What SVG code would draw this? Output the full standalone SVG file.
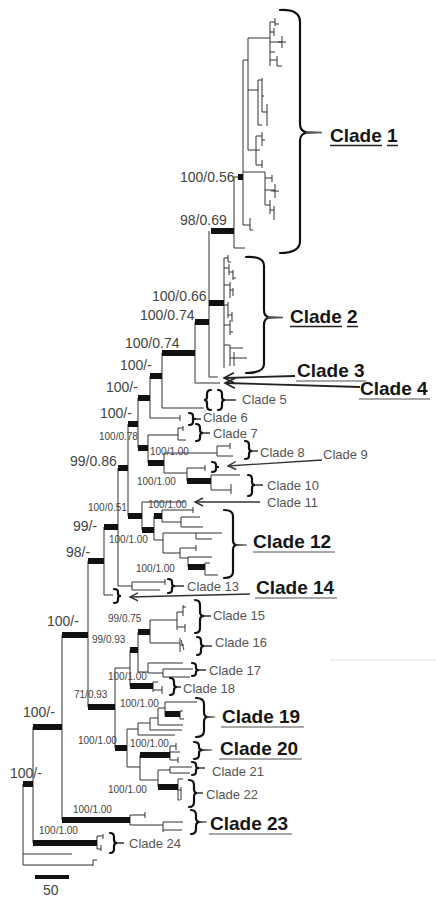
<svg xmlns="http://www.w3.org/2000/svg" width="436" height="899" viewBox="0 0 436 899">
<defs>
<style>
.t{stroke:#333;stroke-width:1;fill:none}
.b{fill:#111}
.br{stroke:#111;stroke-width:2.2;fill:none;stroke-linecap:round}
.dash{stroke:#333;stroke-width:1.5}
.sup{font-family:"Liberation Sans",Arial,sans-serif;font-size:14px;fill:#444}
.s{font-size:10px}
.cl{font-family:"Liberation Sans",Arial,sans-serif;font-size:13px;fill:#555}
.CL{font-family:"Liberation Sans",Arial,sans-serif;font-size:19px;font-weight:bold;fill:#151515}
.ul{stroke:#8a8a8a;stroke-width:1.6}
.ulk{stroke:#222;stroke-width:1.4}
.ar{stroke:#222;stroke-width:1.8;fill:none;marker-end:url(#a)}
.ar2{stroke:#333;stroke-width:1.3;fill:none;marker-end:url(#a2)}
</style>
<marker id="a" markerWidth="14" markerHeight="14" refX="11" refY="6" orient="auto" markerUnits="userSpaceOnUse" overflow="visible"><path d="M1,1 L11,6 L1,11" fill="none" stroke="#222" stroke-width="1.6"/></marker>
<marker id="a2" markerWidth="12" markerHeight="12" refX="9" refY="5" orient="auto" markerUnits="userSpaceOnUse" overflow="visible"><path d="M1,1 L9,5 L1,9" fill="none" stroke="#333" stroke-width="1.4"/></marker>
</defs>
<rect width="436" height="899" fill="#fff"/>

<g id="tree">
<path class="t" d="M243,60 V225 M243,60 H248 M248,38 V150 M248,38 H270 M270,22 V66 M270,22 H275 M275,18 V26 M275,24 H279 M270,32 H274 M274,28 V36 M270,42 H282 M282,36 V48 M278,42 H286 M270,52 H275 M270,60 H277 M277,56 V66 M277,66 H282
M248,90 H258 M258,80 V125 M258,80 H262 M262,78 V112 M262,96 H264 M262,112 H267 M267,104 V126 M258,125 H262
M248,150 H256 M256,136 V165 M256,136 H262 M262,132 V146 M262,140 H265 M256,150 H260 M256,165 H262 M262,160 V168
M243,172 H265 M265,172 V205 M265,178 H272 M272,175 V182 M265,190 H275 M275,184 V198 M271,191 H279 M265,205 H270 M270,200 V214 M270,210 H274 M274,206 V220
M243,225 H250 M250,218 V230 M250,230 H253
M234,177 V248 M234,177 H238 M234,248 H245"/>
<path class="t" d="M209,231 V377 M224,258 V368
M224,258 H228 M228,255 V262 M228,262 H231
M224,268 H229 M229,264 V275 M229,272 H233 M233,270 V280 M233,278 H236
M224,285 H230 M230,282 V298 M230,290 H233 M233,288 V296
M224,305 H228 M228,302 V318 M228,315 H232 M232,312 V322
M224,325 H230 M230,320 V335 M230,332 H233
M224,345 H230 M230,345 V366 M230,348 H243 M230,358 H247 M234,352 V366
M209,377 H218 M195,322 V383 M195,383 H220 M162,353 V408 M162,408 H204 M150,376 V418 M150,418 H180 M180,415 V421
M138,398 V448 M148,435 V463 M148,435 H178 M178,428 V440 M178,428 H183 M183,426 V431 M178,440 H186
M164,453 V473 M164,453 H217 M217,446 V456 M217,446 H230 M230,443 V449 M217,456 H233 M164,473 H187 M187,468 V481 M187,468 H205 M205,465 V471
M211,475 V490 M211,475 H240 M211,490 H231 M231,484 V494
M128,424 V516 M142,502 V530 M142,502 H185 M154,516 V540 M162,510 V522 M162,510 H193 M193,507 V513 M162,522 H181 M181,517 V527 M181,517 H200 M181,527 H203
M154,540 H163 M163,533 V553 M163,533 H222 M196,533 V539 M196,539 H212 M163,553 H180 M180,548 V558 M180,548 H196 M196,545 V551 M180,558 H188 M188,557 V567 M188,557 H212 M205,563 V575 M205,563 H210 M205,575 H218
M118,468 V586 M118,586 H132 M132,582 V590 M132,582 H165 M132,590 H160 M165,579 V585
M104,527 V595 M104,595 H113 M88,561 V707"/>
<path class="t" d="M115,668 V748 M115,668 H130 M130,650 V686 M138,632 V672 M150,620 V643
M150,620 H177 M177,612 V630 M177,612 H183 M183,605 V616 M183,607 H186 M177,627 H185 M185,624 V632
M150,643 H180 M180,638 V652 M180,645 H184 M181,640 L184,650
M138,672 H148 M148,663 V673 M148,663 H183 M148,673 H163 M163,669 V677 M163,669 H193 M163,677 H190
M153,682 V692 M153,682 H158 M153,690 H162 M162,686 V694
M127,729 V767 M127,729 H138 M138,723 V735 M138,735 H175 M138,723 H150 M150,718 V730 M150,730 H182 M150,718 H158 M158,708 V725 M158,725 H183 M158,708 H165 M165,702 V716 M165,702 H197 M180,711 V719 M180,711 H183 M180,719 H184
M127,767 H140 M140,755 V780 M170,746 V760 M170,746 H176 M176,743 V750 M170,752 H180 M170,760 H178 M178,757 V763
M140,780 H158 M158,770 V787 M158,770 H170 M170,767 V773 M170,767 H192 M170,773 H190
M178,779 V800 M178,779 H183 M178,790 H181 M181,787 V800 M178,800 H180
M62,635 V820 M130,815 V825 M130,815 H145 M145,812 V818 M130,825 H163 M163,822 V832 M163,822 H183 M163,830 H182
M33,727 V843 M97,836 V849 M97,836 H103 M103,834 V839 M97,849 H101 M101,845 V851
M23,784 V865 M23,854 H72 M23,865 H93 M93,860 V866 M93,860 H97"/>
<rect class="b" x="238" y="174" width="5" height="6"/>
<rect class="b" x="211" y="228" width="23" height="6"/>
<rect class="b" x="209" y="300" width="15" height="6"/>
<rect class="b" x="195" y="319" width="14" height="6"/>
<rect class="b" x="162" y="350" width="33" height="6"/>
<rect class="b" x="150" y="373" width="12" height="6"/>
<rect class="b" x="138" y="395" width="12" height="6"/>
<rect class="b" x="128" y="421" width="10" height="6"/>
<rect class="b" x="138" y="445" width="10" height="6"/>
<rect class="b" x="148" y="460" width="16" height="6"/>
<rect class="b" x="187" y="478" width="24" height="6"/>
<rect class="b" x="118" y="465" width="10" height="6"/>
<rect class="b" x="128" y="513" width="14" height="6"/>
<rect class="b" x="142" y="527" width="12" height="6"/>
<rect class="b" x="154" y="513" width="8" height="6"/>
<rect class="b" x="188" y="564" width="17" height="6"/>
<rect class="b" x="104" y="524" width="14" height="6"/>
<rect class="b" x="88" y="558" width="16" height="6"/>
<rect class="b" x="62" y="632" width="26" height="6"/>
<rect class="b" x="88" y="704" width="27" height="6"/>
<rect class="b" x="130" y="647" width="8" height="6"/>
<rect class="b" x="138" y="629" width="12" height="6"/>
<rect class="b" x="130" y="683" width="23" height="6"/>
<rect class="b" x="165" y="711" width="15" height="6"/>
<rect class="b" x="115" y="745" width="12" height="6"/>
<rect class="b" x="140" y="752" width="30" height="6"/>
<rect class="b" x="158" y="784" width="20" height="6"/>
<rect class="b" x="62" y="817" width="68" height="6"/>
<rect class="b" x="33" y="724" width="29" height="6"/>
<rect class="b" x="33" y="840" width="64" height="6"/>
<rect class="b" x="23" y="781" width="10" height="6"/>
</g>

<g id="support">
<text class="sup" x="180" y="182">100/0.56</text>
<text class="sup" x="180" y="225">98/0.69</text>
<text class="sup" x="152" y="301">100/0.66</text>
<text class="sup" x="140" y="320">100/0.74</text>
<text class="sup" x="125" y="348">100/0.74</text>
<text class="sup" x="120" y="370">100/-</text>
<text class="sup" x="106" y="392">100/-</text>
<text class="sup" x="100" y="418">100/-</text>
<text class="sup s" x="99" y="440">100/0.78</text>
<text class="sup s" x="150" y="455">100/1.00</text>
<text class="sup" x="70" y="466">99/0.86</text>
<text class="sup s" x="137" y="485">100/1.00</text>
<text class="sup s" x="88" y="511">100/0.51</text>
<text class="sup s" x="148" y="508">100/1.00</text>
<text class="sup" x="73" y="531">99/-</text>
<text class="sup s" x="109" y="543">100/1.00</text>
<text class="sup" x="66" y="557">98/-</text>
<text class="sup s" x="136" y="572">100/1.00</text>
<text class="sup s" x="108" y="622">99/0.75</text>
<text class="sup" x="47" y="626">100/-</text>
<text class="sup s" x="92" y="643">99/0.93</text>
<text class="sup s" x="108" y="680">100/1.00</text>
<text class="sup s" x="74" y="698">71/0.93</text>
<text class="sup s" x="120" y="707">100/1.00</text>
<text class="sup" x="23" y="717">100/-</text>
<text class="sup s" x="78" y="744">100/1.00</text>
<text class="sup s" x="130" y="747">100/1.00</text>
<text class="sup" x="10" y="778">100/-</text>
<text class="sup s" x="108" y="793">100/1.00</text>
<text class="sup s" x="73" y="813">100/1.00</text>
<text class="sup s" x="39" y="834">100/1.00</text>
</g>

<g id="clade1">
<path class="br" d="M280,10 Q300,9 300,22 L300,124 Q300,132 308,132.5 Q300,133 300,141 L300,241 Q300,253 280,253"/>
<polygon points="306,131 322,131.8 322,133.2 306,134" fill="#555"/>
<text class="CL" x="330" y="142">Clade 1</text>
<path class="ulk" d="M330,145.5 H382 M387,145.5 H398"/>
</g>
<g id="clade2">
<path class="br" d="M246,257 Q264,256 264,266 L264,310 Q264,317 270,317.5 Q264,318 264,325 L264,364 Q264,373 246,373"/>
<polygon points="268,316 283,316.8 283,318.2 268,319" fill="#555"/>
<text class="CL" x="290" y="323">Clade 2</text>
<path class="ulk" d="M290,326.5 H342 M347,326.5 H358"/>
</g>
<g id="clade3"><text class="CL" x="297" y="377">Clade 3</text><path class="ul" d="M296,381 H366"/></g>
<g id="clade4"><text class="CL" x="360" y="395">Clade 4</text><path class="ul" d="M359,399 H430"/></g>
<g id="clade5">
<path class="br" d="M211,390 Q207,390 207,394 L207,397 Q207,400 204,400 Q207,400 207,403 L207,406 Q207,410 211,410"/>
<path class="br" d="M218,390 Q222,390 222,394 L222,397 Q222,400 225,400 Q222,400 222,403 L222,406 Q222,410 218,410"/>
<path class="dash" d="M225,400 H236"/>
<text class="cl" x="242" y="404">Clade  5</text>
</g>
<g id="clade6">
<path class="br" d="M189,413 Q193,413 193,416 L193,419 L196,419 L193,419 L193,422 Q193,425 189,425"/>
<path class="dash" d="M196,419 H201"/>
<text class="cl" x="203" y="422">Clade  6</text>
</g>
<g id="clade7">
<path class="br" d="M196,424 Q200,424 200,428 L200,430 Q200,433 203,433 Q200,433 200,436 L200,438 Q200,441 196,441"/>
<path class="dash" d="M203,433 H210"/>
<text class="cl" x="213" y="438">Clade  7</text>
</g>
<g id="clade8">
<path class="br" d="M245,441 Q249,441 249,445 L249,448 Q249,451 252,451 Q249,451 249,454 L249,456 Q249,459 245,459"/>
<path class="dash" d="M252,451 H258"/>
<text class="cl" x="260" y="457">Clade  8</text>
</g>
<g id="clade9">
<path class="br" d="M212,462 Q216,462 216,465 L216,467 L219,467 L216,467 L216,469 Q216,472 212,472"/>
<text class="cl" x="323" y="459">Clade  9</text>
</g>
<g id="clade10">
<path class="br" d="M248,475 Q252,475 252,479 L252,482 Q252,485 255,485 Q252,485 252,488 L252,492 Q252,496 248,496"/>
<path class="dash" d="M255,485 H263"/>
<text class="cl" x="267" y="490">Clade  10</text>
</g>
<g id="clade11"><text class="cl" x="267" y="507">Clade  11</text></g>
<g id="clade12">
<path class="br" d="M224,510 Q233,510 233,516 L233,540 Q233,545 237,545 Q233,545 233,550 L233,572 Q233,578 224,578"/>
<polygon points="236,544 247,544.5 247,545.5 236,546" fill="#444"/>
<text class="CL" x="253" y="548">Clade 12</text><path class="ul" d="M253,552 H335"/>
</g>
<g id="clade13">
<path class="br" d="M168,579 Q172,579 172,582 L172,584 Q172,586 175,586 Q172,586 172,588 L172,590 Q172,593 168,593"/>
<path class="dash" d="M175,586 H184"/>
<text class="cl" x="187" y="591">Clade  13</text>
</g>
<g id="clade14">
<path class="br" d="M114,589 Q118,589 118,592 L118,594 Q118,596 121,596 Q118,596 118,598 L118,600 Q118,603 114,603"/>
<text class="CL" x="256" y="594">Clade 14</text><path class="ul" d="M255,598 H337"/>
</g>
<g id="clade15">
<path class="br" d="M195,600 Q200,600 200,605 L200,612 Q200,616 204,616 Q200,616 200,620 L200,628 Q200,633 195,633"/>
<path class="dash" d="M204,616 H211"/>
<text class="cl" x="213" y="620">Clade  15</text>
</g>
<g id="clade16">
<path class="br" d="M197,637 Q201,637 201,641 L201,643 Q201,646 204,646 Q201,646 201,649 L201,651 Q201,655 197,655"/>
<path class="dash" d="M204,646 H212"/>
<text class="cl" x="215" y="647">Clade  16</text>
</g>
<g id="clade17">
<path class="br" d="M192,663 Q196,663 196,666 L196,668 Q196,670 199,670 Q196,670 196,672 L196,673 Q196,676 192,676"/>
<path class="dash" d="M199,670 H206"/>
<text class="cl" x="209" y="675">Clade  17</text>
</g>
<g id="clade18">
<path class="br" d="M170,678 Q174,678 174,682 L174,684 Q174,687 177,687 Q174,687 174,690 L174,691 Q174,695 170,695"/>
<path class="dash" d="M177,687 H181"/>
<text class="cl" x="183" y="693">Clade  18</text>
</g>
<g id="clade19">
<path class="br" d="M196,698 Q204,698 204,704 L204,712 Q204,717 208,717 Q204,717 204,722 L204,731 Q204,737 196,737"/>
<polygon points="207,716 215,716.5 215,717.5 207,718" fill="#444"/>
<text class="CL" x="222" y="723">Clade 19</text><path class="ul" d="M221,727 H304"/>
</g>
<g id="clade20">
<path class="br" d="M194,742 Q199,742 199,746 L199,747 Q199,750 203,750 Q199,750 199,753 L199,755 Q199,759 194,759"/>
<polygon points="202,749 212,749.5 212,750.5 202,751" fill="#444"/>
<text class="CL" x="220" y="755">Clade 20</text><path class="ul" d="M219,759 H302"/>
</g>
<g id="clade21">
<path class="br" d="M192,762 Q196,762 196,765 L196,766 Q196,768 199,768 Q196,768 196,770 L196,772 Q196,775 192,775"/>
<path class="dash" d="M199,768 H205"/>
<text class="cl" x="212" y="776">Clade  21</text>
</g>
<g id="clade22">
<path class="br" d="M189,780 Q194,780 194,785 L194,789 Q194,793 197,793 Q194,793 194,797 L194,802 Q194,807 189,807"/>
<path class="dash" d="M197,793 H203"/>
<text class="cl" x="206" y="799">Clade  22</text>
</g>
<g id="clade23">
<path class="br" d="M191,810 Q196,810 196,815 L196,818 Q196,822 200,822 Q196,822 196,826 L196,829 Q196,834 191,834"/>
<polygon points="199,821 207,821.5 207,822.5 199,823" fill="#444"/>
<text class="CL" x="210" y="830">Clade 23</text><path class="ul" d="M209,834 H292"/>
</g>
<g id="clade24">
<path class="br" d="M110,833 Q114,833 114,837 L114,840 Q114,843 117,843 Q114,843 114,846 L114,849 Q114,853 110,853"/>
<path class="dash" d="M117,843 H124"/>
<text class="cl" x="129" y="848">Clade  24</text>
</g>

<g id="connectors">
<path class="ar" d="M295,376 L224,378"/>
<path class="ar" d="M360,387 L225,383"/>
<path class="ar2" d="M322,460 L228,466"/>
<path class="ar2" d="M260,502 L195,502"/>
<path class="ar2" d="M250,594 L130,597"/>
</g>

<g id="scale">
<rect x="35" y="875" width="34" height="4" fill="#111"/>
<text class="sup" x="43" y="895">50</text>
</g>
<path d="M330,660 H436" stroke="#e2e2e2" stroke-width="1"/>
</svg>
